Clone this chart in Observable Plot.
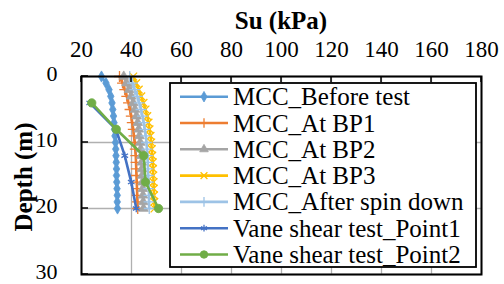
<!DOCTYPE html>
<html>
<head>
<meta charset="utf-8">
<script src="https://cdn.jsdelivr.net/npm/d3@7"></script>
<script src="https://cdn.jsdelivr.net/npm/@observablehq/plot@0.6"></script>
<style>
  html, body { margin: 0; padding: 0; background: #fff; }
  #chart { width: 504px; height: 284px; }
</style>
</head>
<body>
<div id="chart"></div>
<script>
// ---- data ----
const seriesNames = ["MCC_Before test", "MCC_At BP1", "MCC_At BP2", "MCC_At BP3",
  "MCC_After spin down", "Vane shear test_Point1", "Vane shear test_Point2"];
const seriesColors = ["#5B9BD5", "#ED7D31", "#A5A5A5", "#FFC000", "#9DC3E6", "#4472C4", "#70AD47"];
const seriesSymbols = ["diamond", "plus", "triangle", "times", "plus", "asterisk", "circle"];

const depthMCC = [0,1,2,3,4,5,6,7,8,9,10,11,12,13,14,15,16,17,18,19,20];
const suBefore = [28.0,29.8,31.0,31.7,32.2,32.5,32.8,33.0,33.2,33.4,33.6,33.7,33.8,33.9,34.0,34.0,34.1,34.2,34.3,34.3,34.4];
const suBP1    = [35.2,36.4,37.3,38.1,38.8,39.4,39.9,40.3,40.7,41.0,41.3,41.5,41.7,41.8,41.9,42.0,42.1,42.2,42.3,42.4,42.5];
const suBP2    = [36.9,38.0,39.0,39.9,40.7,41.4,42.0,42.5,42.9,43.2,43.5,43.7,43.9,44.1,44.2,44.3,44.4,44.5,44.6,44.7,44.8];
const suBP3    = [40.7,41.9,42.9,43.9,44.8,45.6,46.3,46.8,47.2,47.6,47.9,48.1,48.3,48.5,48.6,48.7,48.8,48.9,49.0,49.1,49.2];
const suSpin   = [39.3,40.4,41.3,42.3,43.1,43.8,44.4,44.9,45.3,45.7,46.0,46.2,46.4,46.5,46.6,46.7,46.8,46.9,47.0,47.0,47.1];

const depthVane = [4, 8, 12, 16, 20];
const suPoint1  = [23.3, 33.8, 37.3, 39.9, 41.9];
const suPoint2  = [24.1, 33.9, 44.9, 45.6, 50.8];

const xTicks = [20, 40, 60, 80, 100, 120, 140, 160, 180];
const yTicks = [0, 10, 20, 30];
const xTitle = "Su (kPa)";
const yTitle = "Depth (m)";

// ---- build tables ----
const mccSu = [suBefore, suBP1, suBP2, suBP3, suSpin];
const rows = [];
mccSu.forEach((arr, i) => arr.forEach((v, j) => rows.push({s: i, su: v, depth: depthMCC[j]})));
suPoint1.forEach((v, j) => rows.push({s: 5, su: v, depth: depthVane[j]}));
suPoint2.forEach((v, j) => rows.push({s: 6, su: v, depth: depthVane[j]}));

const FONT = '"Liberation Serif", "DejaVu Serif", serif';

const seriesMarks = [];
for (let i = 0; i < seriesNames.length; i++) {
  const d = rows.filter(r => r.s === i);
  seriesMarks.push(Plot.line(d, {x: "su", y: "depth", stroke: seriesColors[i], strokeWidth: 2.6}));
  const sym = seriesSymbols[i];
  const strokeSym = (sym === "plus" || sym === "times" || sym === "asterisk");
  seriesMarks.push(Plot.dot(d, {
    x: "su", y: "depth", symbol: sym,
    r: sym === "circle" ? 4.2 : (sym === "diamond" ? 3.4 : 3.6),
    fill: strokeSym ? "none" : seriesColors[i],
    stroke: seriesColors[i], strokeWidth: strokeSym ? 1.3 : 0.8
  }));
}

const chart = Plot.plot({
  width: 504, height: 284,
  marginLeft: 81, marginRight: 23, marginTop: 76, marginBottom: 10,
  style: {fontSize: "23px", color: "#000", background: "#fff", fontFamily: FONT},
  x: {domain: [20, 180]},
  y: {domain: [0, 30], reverse: true},
  marks: [
    Plot.gridX(xTicks, {stroke: "#b0b0b0", strokeOpacity: 1, strokeWidth: 1.3}),
    Plot.gridY(yTicks, {stroke: "#b0b0b0", strokeOpacity: 1, strokeWidth: 1.3}),
    Plot.axisX(xTicks, {anchor: "top", tickSize: 0, tickPadding: 20, label: null, fontSize: 23, fill: "#000"}),
    Plot.axisY(yTicks, {anchor: "left", tickSize: 0, tickPadding: 24, dy: -2.5, label: null, fontSize: 22, fill: "#000"}),
    ...seriesMarks,
    Plot.frame({stroke: "#000", strokeWidth: 2})
  ]
});
document.getElementById("chart").appendChild(chart);

// ---- extras: inside ticks, titles, legend ----
const svg = d3.select(chart);
const sx = chart.scale("x"), sy = chart.scale("y");
const yTop = sy.apply(0), xLeft = sx.apply(20);
const tk = svg.append("g").attr("stroke", "#000").attr("stroke-width", 1.5);
xTicks.forEach(v => tk.append("line").attr("x1", sx.apply(v)).attr("x2", sx.apply(v)).attr("y1", yTop).attr("y2", yTop + 6));
yTicks.forEach(v => tk.append("line").attr("x1", xLeft).attr("x2", xLeft + 7).attr("y1", sy.apply(v)).attr("y2", sy.apply(v)));

svg.append("text").attr("x", (sx.apply(20) + sx.apply(180)) / 2).attr("y", 20).attr("dy", "0.35em")
  .attr("text-anchor", "middle").attr("font-weight", "bold")
  .attr("font-size", 25).attr("fill", "#000").text(xTitle);
svg.append("text").attr("transform", `translate(23.5,${(sy.apply(0) + sy.apply(30)) / 2 + 2}) rotate(-90)`)
  .attr("dy", "0.35em").attr("text-anchor", "middle").attr("font-weight", "bold")
  .attr("font-size", 25).attr("fill", "#000").text(yTitle);

const lg = svg.append("g");
lg.append("rect").attr("x", 170).attr("y", 83).attr("width", 306).attr("height", 184)
  .attr("fill", "#fff").attr("stroke", "#000").attr("stroke-width", 1.8);
const symMap = {diamond: d3.symbolDiamond, plus: d3.symbolPlus, triangle: d3.symbolTriangle,
  times: d3.symbolTimes, asterisk: d3.symbolAsterisk, circle: d3.symbolCircle};
seriesNames.forEach((name, i) => {
  const cy = 96.7 + i * 26.3;
  lg.append("line").attr("x1", 180).attr("x2", 228).attr("y1", cy).attr("y2", cy)
    .attr("stroke", seriesColors[i]).attr("stroke-width", 2.6);
  const sym = seriesSymbols[i];
  const strokeSym = (sym === "plus" || sym === "times" || sym === "asterisk");
  lg.append("path").attr("transform", `translate(204,${cy})`)
    .attr("d", d3.symbol(symMap[sym], sym === "circle" ? 45 : 32)())
    .attr("fill", strokeSym ? "none" : seriesColors[i]).attr("stroke", seriesColors[i])
    .attr("stroke-width", strokeSym ? 1.3 : 0.8);
  lg.append("text").attr("x", 233).attr("y", cy + 8.5).attr("text-anchor", "start")
    .attr("font-size", 25).attr("fill", "#000").text(name);
});
svg.selectAll("text").style("font-family", FONT).attr("font-family", FONT);
</script>
</body>
</html>
